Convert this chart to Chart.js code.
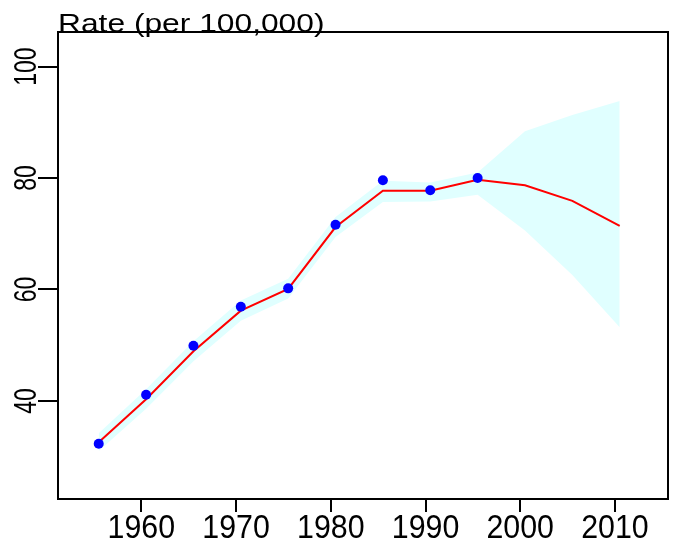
<!DOCTYPE html>
<html>
<head>
<meta charset="utf-8">
<script src="https://cdn.jsdelivr.net/npm/chart.js@4.4.1/dist/chart.umd.min.js"></script>
<style>
    html, body { margin: 0; padding: 0; background: #ffffff; }
</style>
</head>
<body>
<canvas id="rateChart" width="681" height="546"></canvas>
<script>
// mid-points of the 5-year periods
const years = [1955.5, 1960.5, 1965.5, 1970.5, 1975.5, 1980.5, 1985.5, 1990.5, 1995.5, 2000.5, 2005.5, 2010.5];
const observed = [32.3, 41.1, 49.9, 56.9, 60.2, 71.6, 79.6, 77.8, 80.0];
const fitted = [32.6, 40.3, 48.9, 56.2, 60.1, 71.2, 77.7, 77.7, 79.7, 78.7, 75.9, 71.4];
const lower = [31.0, 38.6, 47.1, 54.4, 58.4, 69.4, 75.7, 75.8, 77.0, 70.6, 62.6, 53.2];
const upper = [34.2, 42.1, 50.7, 58.0, 61.9, 73.0, 79.5, 79.2, 81.0, 88.4, 91.3, 93.8];
const xTicks = [1960, 1970, 1980, 1990, 2000, 2010];
const yTicks = [40, 60, 80, 100];
const axisTitle = 'Rate (per 100,000)';

const FONT = "'Liberation Sans', Arial, sans-serif";

const toPts = (vals) => vals.map((v, i) => ({ x: years[i], y: v }));

// draws text with a stretch, the reference glyphs are scaled
function stretchText(ctx, text, x, y, opts) {
    ctx.save();
    ctx.translate(x, y);
    if (opts.rot) ctx.rotate(opts.rot);
    ctx.scale(opts.sx || 1, opts.sy || 1);
    ctx.font = opts.font;
    ctx.textAlign = opts.align || 'left';
    ctx.textBaseline = 'alphabetic';
    ctx.fillStyle = '#000000';
    ctx.fillText(text, 0, 0);
    ctx.restore();
}

// R style box, ticks and labels
const boxAxes = {
    id: 'boxAxes',
    afterDraw(chart) {
        const { ctx, chartArea: a, scales } = chart;
        const xs = scales.x, ys = scales.y;

        stretchText(ctx, axisTitle, a.left, a.top, { font: '25px ' + FONT, sx: 1.27, sy: 1 });

        ctx.save();
        ctx.strokeStyle = '#000000';
        ctx.lineWidth = 2;
        ctx.strokeRect(a.left, a.top, a.right - a.left, a.bottom - a.top);

        ctx.beginPath();
        xTicks.forEach(t => {
            const px = Math.round(xs.getPixelForValue(t));
            ctx.moveTo(px, a.bottom);
            ctx.lineTo(px, a.bottom + 13);
        });
        yTicks.forEach(t => {
            const py = Math.round(ys.getPixelForValue(t));
            ctx.moveTo(a.left, py);
            ctx.lineTo(a.left - 20, py);
        });
        ctx.stroke();
        ctx.restore();

        xTicks.forEach(t => {
            stretchText(ctx, String(t), xs.getPixelForValue(t), 538,
                { font: '23px ' + FONT, sx: 1.32, sy: 1.42, align: 'center' });
        });
        yTicks.forEach(t => {
            stretchText(ctx, String(t), 36, ys.getPixelForValue(t),
                { font: '23px ' + FONT, sx: 1, sy: 1.38, align: 'center', rot: -Math.PI / 2 });
        });
    }
};

new Chart(document.getElementById('rateChart'), {
    type: 'line',
    data: {
        datasets: [
            {
                label: 'observed',
                data: toPts(observed),
                showLine: false,
                pointRadius: 5,
                pointBackgroundColor: '#0000ff',
                pointBorderColor: '#0000ff',
                pointBorderWidth: 0,
                order: 0
            },
            {
                label: 'fitted',
                data: toPts(fitted),
                borderColor: '#ff0000',
                borderWidth: 2,
                pointRadius: 0,
                fill: false,
                tension: 0,
                order: 1
            },
            {
                label: 'upper',
                data: toPts(upper),
                borderWidth: 0,
                pointRadius: 0,
                backgroundColor: '#e0ffff',
                fill: '+1',
                order: 2
            },
            {
                label: 'lower',
                data: toPts(lower),
                borderWidth: 0,
                pointRadius: 0,
                fill: false,
                order: 3
            }
        ]
    },
    options: {
        responsive: false,
        animation: false,
        devicePixelRatio: 1,
        layout: { padding: { left: 58, right: 13, top: 32, bottom: 47 } },
        plugins: { legend: { display: false }, tooltip: { enabled: false } },
        scales: {
            x: { type: 'linear', min: 1951.2, max: 2015.6, display: false },
            y: { min: 22.4, max: 106.2, display: false }
        }
    },
    plugins: [boxAxes]
});
</script>
</body>
</html>
